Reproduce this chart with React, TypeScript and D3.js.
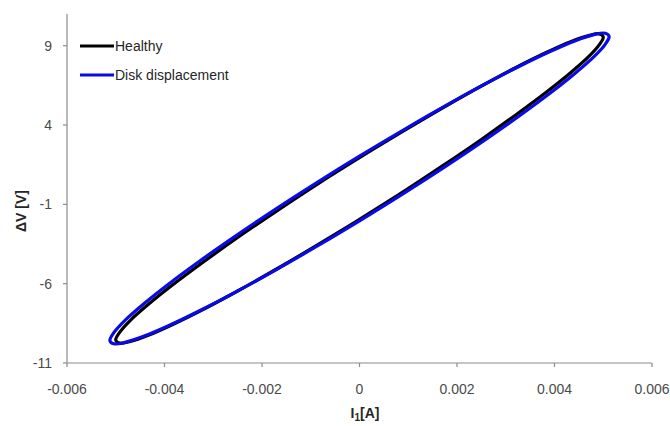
import React from "react";
import * as d3 from "d3";

// Current I1 [A] and voltage difference ΔV [V] around one cycle
const healthyI = [
  0.0050, 0.00492, 0.0047, 0.00433, 0.00383, 0.00321, 0.0025, 0.00171, 0.00087,
  0, -0.00087, -0.00171, -0.0025, -0.00321, -0.00383, -0.00433, -0.0047, -0.00492,
  -0.0050, -0.00492, -0.0047, -0.00433, -0.00383, -0.00321, -0.0025, -0.00171, -0.00087,
  0, 0.00087, 0.00171, 0.0025, 0.00321, 0.00383, 0.00433, 0.0047, 0.00492,
];
const healthyV = [
  9.55, 9.75, 9.64, 9.25, 8.57, 7.63, 6.46, 5.09, 3.57,
  1.94, 0.26, -1.44, -3.09, -4.65, -6.07, -7.3, -8.31, -9.07,
  -9.55, -9.75, -9.64, -9.25, -8.57, -7.63, -6.46, -5.09, -3.57,
  -1.94, -0.26, 1.44, 3.09, 4.65, 6.07, 7.3, 8.31, 9.07,
];
const diskI = [
  0.00512, 0.00504, 0.00481, 0.00443, 0.00392, 0.00329, 0.00256, 0.00175, 0.00089,
  0, -0.00089, -0.00175, -0.00256, -0.00329, -0.00392, -0.00443, -0.00481, -0.00504,
  -0.00512, -0.00504, -0.00481, -0.00443, -0.00392, -0.00329, -0.00256, -0.00175, -0.00089,
  0, 0.00089, 0.00175, 0.00256, 0.00329, 0.00392, 0.00443, 0.00481, 0.00504,
];
const diskV = [
  9.59, 9.79, 9.7, 9.32, 8.65, 7.72, 6.56, 5.19, 3.67,
  2.04, 0.34, -1.36, -3.03, -4.6, -6.03, -7.28, -8.31, -9.09,
  -9.59, -9.79, -9.7, -9.32, -8.65, -7.72, -6.56, -5.19, -3.67,
  -2.04, -0.34, 1.36, 3.03, 4.6, 6.03, 7.28, 8.31, 9.09,
];

const xTicks = [-0.006, -0.004, -0.002, 0, 0.002, 0.004, 0.006];
const yTicks = [-11, -6, -1, 4, 9];
const seriesNames = ["Healthy", "Disk displacement"];
const seriesColors = ["#000000", "#0a0ae6"];

const W = 670;
const H = 426;
const left = 67;
const right = 652;
const top = 14;
const bottom = 363;

const axisColor = "#8c8c8c";
const textColor = "#4a4a4a";
const font = "'Liberation Sans', Arial, sans-serif";

export default function App() {
  const x = d3.scaleLinear().domain([-0.006, 0.006]).range([left, right]);
  const y = d3.scaleLinear().domain([-11, 11]).range([bottom, top]);

  const line = d3
    .line<[number, number]>()
    .x((d) => x(d[0]))
    .y((d) => y(d[1]))
    .curve(d3.curveCatmullRomClosed.alpha(0.5));

  const healthy = healthyI.map((v, i) => [v, healthyV[i]] as [number, number]);
  const disk = diskI.map((v, i) => [v, diskV[i]] as [number, number]);
  const series = [healthy, disk];

  const fmt = (v: number) => (v === 0 ? "0" : d3.format(".3f")(v).replace("−", "-"));

  return (
    <svg
      width={W}
      height={H}
      style={{ position: "absolute", left: 0, top: 0, background: "#fff" }}
      fontFamily={font}
    >
      {/* axes */}
      <line x1={left} x2={left} y1={top} y2={bottom} stroke={axisColor} strokeWidth={1.2} />
      <line x1={left} x2={right} y1={bottom} y2={bottom} stroke={axisColor} strokeWidth={1.2} />
      {yTicks.map((t) => (
        <g key={`y${t}`}>
          <line x1={left - 4} x2={left} y1={y(t)} y2={y(t)} stroke={axisColor} strokeWidth={1.2} />
          <text x={left - 15} y={y(t) + 5} textAnchor="end" fontSize={14} fill={textColor}>
            {t}
          </text>
        </g>
      ))}
      {xTicks.map((t) => (
        <g key={`x${t}`}>
          <line x1={x(t)} x2={x(t)} y1={bottom} y2={bottom + 4} stroke={axisColor} strokeWidth={1.2} />
          <text x={x(t)} y={394} textAnchor="middle" fontSize={14} fill={textColor}>
            {fmt(t)}
          </text>
        </g>
      ))}

      {/* axis titles */}
      <text
        transform={`translate(26, 211) rotate(-90)`}
        textAnchor="middle"
        fontSize={14}
        fontWeight="bold"
        fill="#262626"
      >
        ΔV [V]
      </text>
      <text x={365} y={418} textAnchor="middle" fontSize={14} fontWeight="bold" fill="#262626">
        I
        <tspan fontSize={10} dy={3}>1</tspan>
        <tspan dy={-3}>[A]</tspan>
      </text>

      {/* loops */}
      {series.map((s, i) => (
        <path
          key={seriesNames[i]}
          d={line(s) ?? ""}
          fill="none"
          stroke={seriesColors[i]}
          strokeWidth={3.2}
          strokeLinejoin="round"
        />
      ))}

      {/* legend */}
      {seriesNames.map((n, i) => (
        <g key={`lg${n}`} transform={`translate(80, ${46 + i * 29})`}>
          <line x1={0} x2={34} y1={0} y2={0} stroke={seriesColors[i]} strokeWidth={3} />
          <text x={35} y={5} fontSize={14} fill="#262626">
            {n}
          </text>
        </g>
      ))}
    </svg>
  );
}
